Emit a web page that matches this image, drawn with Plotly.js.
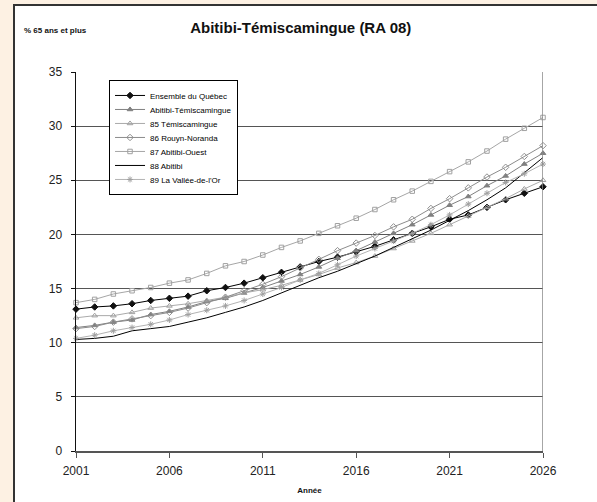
<!DOCTYPE html>
<html>
<head>
<meta charset="utf-8">
<script src="https://cdn.plot.ly/plotly-3.0.1.min.js"></script>
<style>
  html, body { margin: 0; padding: 0; background: #fdf1e3; width: 597px; height: 502px; overflow: hidden; }
  #frame { position: absolute; left: 13px; top: 4px; width: 582px; height: 496px;
           border-left: 2px solid #333; border-top: 2px solid #333; background: #fff; }
  #chart { width: 582px; height: 496px; }
</style>
</head>
<body>
<div id="frame"><div id="chart"></div></div>
<script>
var years = [2001,2002,2003,2004,2005,2006,2007,2008,2009,2010,2011,2012,2013,
             2014,2015,2016,2017,2018,2019,2020,2021,2022,2023,2024,2025,2026];

var seriesNames = ["Ensemble du Québec", "Abitibi-Témiscamingue", "85 Témiscamingue",
                   "86 Rouyn-Noranda", "87 Abitibi-Ouest", "88 Abitibi", "89 La Vallée-de-l'Or"];

var quebec   = [13.1,13.3,13.4,13.6,13.9,14.1,14.3,14.8,15.1,15.5,16.0,16.5,17.0,
                17.5,17.9,18.4,18.9,19.5,20.1,20.7,21.4,21.8,22.5,23.2,23.8,24.4];
var abitibiTemisc = [11.4,11.6,11.9,12.1,12.6,12.9,13.3,13.8,14.1,14.6,15.1,15.7,16.3,
                17.0,17.8,18.5,19.3,20.1,20.9,21.8,22.7,23.5,24.5,25.4,26.5,27.5];
var temiscamingue = [12.3,12.5,12.5,12.8,13.2,13.4,13.6,13.9,14.2,14.6,14.9,15.3,15.8,
                16.3,16.9,17.4,18.0,18.7,19.4,20.1,20.9,21.7,22.5,23.3,24.2,25.0];
var rouyn    = [11.3,11.5,11.9,12.2,12.5,12.8,13.2,13.7,14.2,14.8,15.4,16.1,16.9,
                17.7,18.5,19.2,19.9,20.7,21.4,22.4,23.3,24.3,25.3,26.2,27.2,28.2];
var abitibiOuest = [13.7,14.0,14.5,14.8,15.1,15.5,15.8,16.4,17.1,17.5,18.1,18.8,19.4,
                20.1,20.8,21.5,22.3,23.2,24.0,24.9,25.8,26.7,27.7,28.8,29.8,30.8];
var abitibi  = [10.3,10.4,10.6,11.1,11.3,11.5,11.9,12.3,12.8,13.3,13.9,14.6,15.3,
                16.0,16.6,17.3,18.0,18.8,19.6,20.4,21.3,22.2,23.2,24.3,25.7,27.1];
var vallee   = [10.4,10.7,11.1,11.4,11.7,12.1,12.6,13.0,13.4,13.9,14.5,15.1,15.8,
                16.4,17.2,18.0,18.7,19.4,20.1,20.9,21.8,22.8,23.8,24.8,25.6,26.5];

var xTicks = [2001, 2006, 2011, 2016, 2021, 2026];
var yTicks = [0, 5, 10, 15, 20, 25, 30, 35];

var FONT = "Arial, 'Liberation Sans', Helvetica, sans-serif";

function tr(name, y, lineColor, symbol, markerColor, size, mode) {
  return {
    type: 'scatter', mode: mode || 'lines+markers', name: name, x: years, y: y,
    cliponaxis: false,
    line: { color: lineColor, width: 1 },
    marker: { symbol: symbol, size: size, color: markerColor, line: { color: markerColor, width: 1 } }
  };
}

var traces = [
  tr(seriesNames[0], quebec, '#000000', 'diamond', '#111111', 5),
  tr(seriesNames[1], abitibiTemisc, '#808080', 'triangle-up', '#808080', 5),
  tr(seriesNames[2], temiscamingue, '#aaaaaa', 'triangle-up-open', '#a0a0a0', 5),
  tr(seriesNames[3], rouyn, '#8c8c8c', 'diamond-open', '#909090', 5),
  tr(seriesNames[4], abitibiOuest, '#a6a6a6', 'square-open', '#a0a0a0', 4.5),
  tr(seriesNames[5], abitibi, '#000000', 'circle', '#000000', 5, 'lines'),
  tr(seriesNames[6], vallee, '#b3b3b3', 'asterisk-open', '#a0a0a0', 5)
];

var layout = {
  width: 582, height: 496,
  margin: { l: 61, r: 54, t: 66, b: 51 },
  paper_bgcolor: '#ffffff', plot_bgcolor: '#ffffff',
  font: { family: FONT, color: '#222' },
  showlegend: true,
  title: {
    text: 'Abitibi-Témiscamingue (RA 08)',
    font: { family: FONT, size: 15, weight: 'bold', color: '#111' },
    xref: 'container', x: 0.491, xanchor: 'center',
    yref: 'container', y: 0.956, yanchor: 'middle'
  },
  xaxis: {
    range: [2001, 2026], tickmode: 'array', tickvals: xTicks, ticktext: xTicks.map(String),
    showgrid: false, zeroline: false,
    showline: true, linecolor: '#555', linewidth: 1.5,
    ticks: 'outside', ticklen: 5, tickcolor: '#555', tickwidth: 1,
    tickfont: { family: FONT, size: 12, color: '#222' },
    ticklabelstandoff: 3,
    title: { text: 'Année', font: { family: FONT, size: 8, weight: 'bold', color: '#111' }, standoff: 10 },
    fixedrange: true
  },
  yaxis: {
    range: [0, 35], tickmode: 'array', tickvals: yTicks, ticktext: yTicks.map(String),
    showgrid: true, gridcolor: '#555', gridwidth: 1, zeroline: false,
    showline: true, linecolor: '#111', linewidth: 1.5,
    ticks: 'outside', ticklen: 4, tickcolor: '#111', tickwidth: 1,
    tickfont: { family: FONT, size: 12, color: '#222' },
    ticklabelstandoff: 6,
    fixedrange: true
  },
  legend: {
    x: 0.0707, y: 0.979, xanchor: 'left', yanchor: 'top',
    bgcolor: '#ffffff', bordercolor: '#000', borderwidth: 1,
    font: { family: FONT, size: 8, color: '#000' },
    tracegroupgap: 0
  },
  shapes: [
    { type: 'line', xref: 'x', yref: 'y', x0: 2026, x1: 2026, y0: 0, y1: 35,
      line: { color: '#888', width: 1.5 } }
  ],
  annotations: [
    { text: '% 65 ans et plus', xref: 'paper', yref: 'paper', x: -0.1156, y: 1.1108,
      xanchor: 'left', yanchor: 'middle', showarrow: false,
      font: { family: FONT, size: 8, weight: 'bold', color: '#111' } }
  ]
};

Plotly.newPlot('chart', traces, layout, { staticPlot: true, displayModeBar: false }).then(function (gd) {
  try {
    var items = gd.querySelectorAll('.legend .traces');
    if (items.length < 2) return;
    var re = /translate\(\s*([-\d.e]+)\s*,\s*([-\d.e]+)\s*\)/;
    var pos = [];
    items.forEach(function (it) {
      var m = re.exec(it.getAttribute('transform') || '');
      pos.push(m ? [+m[1], +m[2]] : null);
    });
    if (!pos[0] || !pos[1]) return;
    var origStep = pos[1][1] - pos[0][1];
    var step = 14;
    items.forEach(function (it, i) {
      var p = pos[i] || pos[0];
      it.setAttribute('transform', 'translate(' + p[0] + ',' + (pos[0][1] + i * step) + ')');
    });
    var bg = gd.querySelector('.legend rect.bg');
    if (bg) {
      var h = +bg.getAttribute('height');
      bg.setAttribute('height', h - (items.length - 1) * (origStep - step));
    }
  } catch (e) {}
});
</script>
</body>
</html>
